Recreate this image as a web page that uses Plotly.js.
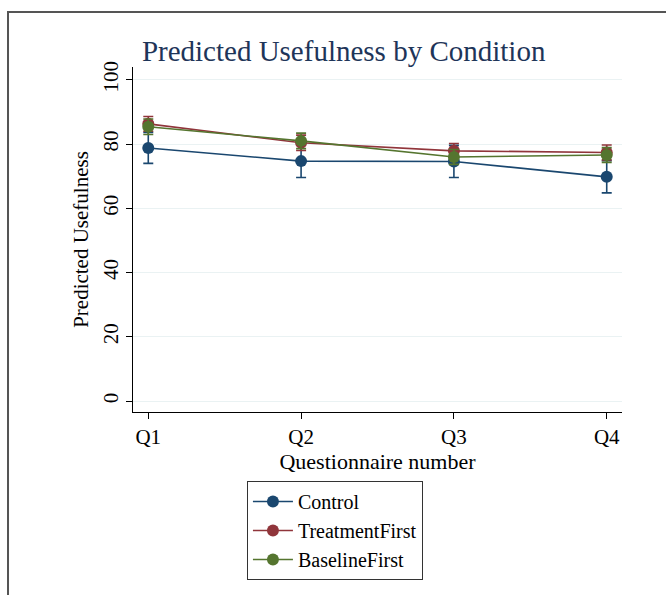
<!DOCTYPE html>
<html>
<head>
<meta charset="utf-8">
<script src="https://cdn.plot.ly/plotly-3.0.1.min.js"></script>
<style>
html,body{margin:0;padding:0;background:#fff;}
#chart{width:666px;height:595px;}
</style>
</head>
<body>
<div id="chart"></div>
<script>
const questions = [1, 2, 3, 4];
const tickLabels = ["Q1", "Q2", "Q3", "Q4"];
const seriesNames = ["Control", "TreatmentFirst", "BaselineFirst"];
const controlVals = [78.8, 74.7, 74.6, 69.8];
const controlErr = [4.8, 5.1, 5.0, 5.0];
const treatmentVals = [86.3, 80.4, 77.9, 77.4];
const treatmentErr = [2.3, 2.4, 2.3, 2.3];
const baselineVals = [85.4, 81.0, 76.0, 76.6];
const baselineErr = [2.4, 2.4, 2.3, 2.3];
const colors = ["#1a476f", "#90353b", "#55752f"];

const serif = "Liberation Serif, Times New Roman, serif";

function mk(name, y, err, color) {
  return {
    type: "scatter", mode: "lines+markers", name: name,
    x: questions, y: y,
    line: {color: color, width: 1.6},
    marker: {color: color, size: 12},
    error_y: {type: "data", array: err, visible: true, color: color, thickness: 1.6, width: 5}
  };
}

const data = [
  mk(seriesNames[0], controlVals, controlErr, colors[0]),
  mk(seriesNames[1], treatmentVals, treatmentErr, colors[1]),
  mk(seriesNames[2], baselineVals, baselineErr, colors[2])
];

const layout = {
  width: 666, height: 595,
  margin: {l: 133, r: 44, t: 67, b: 183, autoexpand: false},
  paper_bgcolor: "#fff", plot_bgcolor: "#fff",
  font: {family: serif, color: "#000", size: 21},
  title: {text: "Predicted Usefulness by Condition", font: {family: serif, size: 29, color: "#1e3559"},
          x: 0.516, xanchor: "center", y: 0.915, yanchor: "middle"},
  xaxis: {
    range: [0.9, 4.1], tickvals: questions, ticktext: tickLabels,
    showgrid: false, zeroline: false, showline: true, linecolor: "#000", linewidth: 1,
    ticks: "outside", ticklen: 6, tickcolor: "#000", automargin: false,
    tickfont: {family: serif, size: 21, color: "#000"},
    title: {text: "Questionnaire number", font: {family: serif, size: 22, color: "#000"}, standoff: 0}
  },
  yaxis: {
    range: [-3.4, 104], tickvals: [0, 20, 40, 60, 80, 100], tickangle: -90,
    showgrid: true, gridcolor: "#eaf2f3", gridwidth: 1, zeroline: false,
    showline: true, linecolor: "#000", linewidth: 1,
    ticks: "outside", ticklen: 6, tickcolor: "#000", automargin: false,
    tickfont: {family: serif, size: 21, color: "#000"},
    title: {text: "Predicted Usefulness", font: {family: serif, size: 21, color: "#000"}, standoff: 4}
  },
  showlegend: true,
  legend: {
    x: 0.233, xanchor: "left", y: -0.2, yanchor: "top",
    bordercolor: "#333", borderwidth: 1, bgcolor: "#fff",
    font: {family: serif, size: 20, color: "#000"},
    tracegroupgap: 0, itemwidth: 40, entrywidth: 215
  },
  shapes: [{
    type: "rect", xref: "paper", yref: "paper",
    x0: -0.2556, x1: 1.3, y0: -0.8, y1: 1.1594,
    line: {color: "#555", width: 2}, fillcolor: "rgba(0,0,0,0)", layer: "below"
  }]
};

Plotly.newPlot("chart", data, layout, {displayModeBar: false, staticPlot: true});
</script>
</body>
</html>
